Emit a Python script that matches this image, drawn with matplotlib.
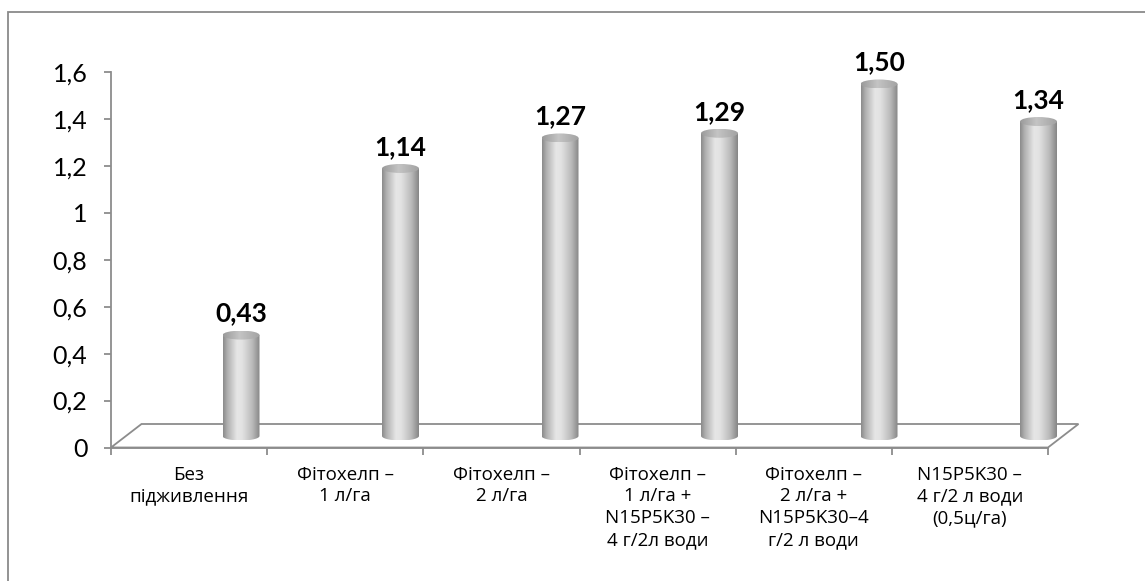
import numpy as np
import matplotlib
matplotlib.use('Agg')
import matplotlib.pyplot as plt
from matplotlib.path import Path
from matplotlib.patches import PathPatch, Ellipse, Polygon, Rectangle
from matplotlib.colors import LinearSegmentedColormap

plt.rcParams['font.family'] = ['Lato', 'DejaVu Sans']

# Data
categories = [
    'Без\nпідживлення',
    'Фітохелп –\n1 л/га',
    'Фітохелп –\n2 л/га',
    'Фітохелп –\n1 л/га +\nN15P5K30 –\n4 г/2л води',
    'Фітохелп –\n2 л/га +\nN15P5K30–4\nг/2 л води',
    'N15P5K30 –\n4 г/2 л води\n(0,5ц/га)',
]
values = [0.43, 1.14, 1.27, 1.29, 1.50, 1.34]
value_labels = ['0,43', '1,14', '1,27', '1,29', '1,50', '1,34']
yticks = [0, 0.2, 0.4, 0.6, 0.8, 1.0, 1.2, 1.4, 1.6]

W, H = 1145, 581
fig = plt.figure(figsize=(W / 100, H / 100), dpi=100)
ax = fig.add_axes([0, 0, 1, 1])

# pixel mapping of the plot area (front axis -0.5..5.5 -> 111..1048 px, 0..1.6 -> 447.5..72 px)
xs = (1048 - 111) / 6.0
ys = (447.5 - 72) / 1.6
ax.set_xlim(-0.5 - 111 / xs, -0.5 + (W - 111) / xs)
ax.set_ylim(-(H - 447.5) / ys, 447.5 / ys)
ax.set_facecolor('white')
ax.autoscale(False)

grey = '#8c8c8c'

# floor (3d look)
ddx, ddy = 30.5 / xs, 23.5 / ys
floor = Polygon([(-0.5, 0), (5.5, 0), (5.5 + ddx, ddy), (-0.5 + ddx, ddy)],
                closed=True, facecolor='white', edgecolor=grey, lw=1.3, zorder=1)
ax.add_patch(floor)

# axes
for s in ['top', 'right']:
    ax.spines[s].set_visible(False)
ax.spines['left'].set_position(('data', -0.5))
ax.spines['left'].set_bounds(0, 1.6)
ax.spines['bottom'].set_position(('data', 0))
ax.spines['bottom'].set_bounds(-0.5, 5.5)
for s in ['left', 'bottom']:
    ax.spines[s].set_color(grey)
    ax.spines[s].set_linewidth(1.3)
    ax.spines[s].set_zorder(2)

ax.set_yticks(yticks)
ax.set_yticklabels([f'{v:g}'.replace('.', ',') for v in yticks], fontsize=18)
ax.tick_params(axis='y', length=5, width=1.3, color=grey, pad=12)

x = np.arange(len(categories))
ax.set_xticks(np.arange(-0.5, 6.0, 1.0))
ax.set_xticklabels([])
ax.tick_params(axis='x', which='major', length=5, width=1.3, color=grey)
ax.set_xticks(x, minor=True)
ax.set_xticklabels(categories, minor=True, fontsize=13.5, linespacing=1.28,
                   family=['Open Sans', 'DejaVu Sans'])
ax.tick_params(axis='x', which='minor', length=0, pad=13)

# cylinders
base = (447.5 - 436) / ys
bar_w = 37 / xs
eb = 4.5 / ys
xpos = x * (159.5 / xs) + (241 - 111) / xs - 0.5
bars = ax.bar(xpos, values, width=bar_w, bottom=base, facecolor='none', edgecolor='none')

cmap = LinearSegmentedColormap.from_list('cyl', [
    (0.0, '#8a8a8a'), (0.12, '#b0b0b0'), (0.38, '#e6e6e6'), (0.52, '#e2e2e2'),
    (0.8, '#b9b9b9'), (1.0, '#858585')])
cmap_top = LinearSegmentedColormap.from_list('top', [
    (0.0, '#9a9a9a'), (0.45, '#c4c4c4'), (1.0, '#a2a2a2')])
grad = np.linspace(0, 1, 256).reshape(1, -1)

for r, lab in zip(bars, value_labels):
    x0, w = r.get_x(), r.get_width()
    x1 = x0 + w
    xc = x0 + w / 2
    top = r.get_y() + r.get_height()
    t = np.linspace(np.pi, 2 * np.pi, 60)
    verts = [(x0, top), (x0, base)] + list(zip(xc + w / 2 * np.cos(t), base + eb * np.sin(t))) + [(x1, top), (x0, top)]
    codes = [Path.MOVETO] + [Path.LINETO] * (len(verts) - 2) + [Path.CLOSEPOLY]
    body = PathPatch(Path(verts, codes), transform=ax.transData, facecolor='none', edgecolor='none')
    im = ax.imshow(grad, cmap=cmap, extent=[x0, x1, base - eb, top], aspect='auto',
                   interpolation='bilinear', zorder=3)
    im.set_clip_path(body)
    cap = Ellipse((xc, top), w, 2 * eb, transform=ax.transData, facecolor='none', edgecolor='none')
    im2 = ax.imshow(grad, cmap=cmap_top, extent=[x0, x1, top - eb, top + eb], aspect='auto',
                    interpolation='bilinear', zorder=4)
    im2.set_clip_path(cap)
    ax.annotate(lab, (xc, top), xytext=(0, 15.5), textcoords='offset points',
                ha='center', va='center', fontsize=19, fontweight='bold', zorder=5)

ax.set_xlim(-0.5 - 111 / xs, -0.5 + (W - 111) / xs)
ax.set_ylim(-(H - 447.5) / ys, 447.5 / ys)

# outer chart frame
fig.add_artist(Rectangle((7.5 / W, -0.1), 1.2, 1.1 - 11.5 / H, transform=fig.transFigure,
                         facecolor='none', edgecolor='#8a8a8a', lw=1.3))

fig.savefig('out.png', dpi=100)
